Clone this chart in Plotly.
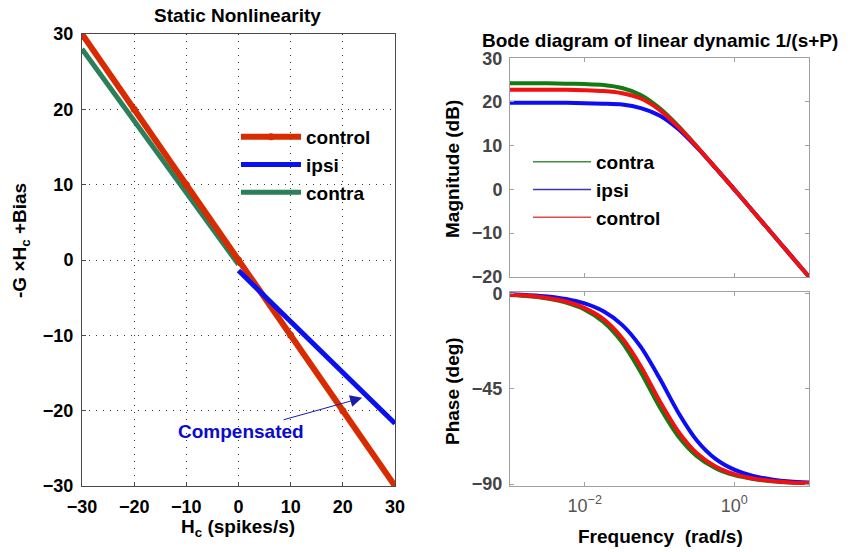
import plotly.graph_objects as go

# ---------------- data: static nonlinearity ----------------
H_CONTROL = [-30, -20, -10, 0, 10, 20, 30]
CONTROL_OUT = [30, 20, 10, 0, -10, -20, -30]
H_CONTRA = [-30, -20, -10, 0]
CONTRA_OUT = [28.0, 18.4, 8.9, -0.6]
H_IPSI = [0, 10, 20, 30]
IPSI_OUT = [-1.4, -8.1, -14.9, -21.7]
AXIS_TICKS_LEFT = [-30, -20, -10, 0, 10, 20, 30]

# ---------------- data: Bode diagram ----------------
FREQ = [0.001, 0.00178, 0.00316, 0.00562, 0.01, 0.0178, 0.0316, 0.0562, 0.1,
        0.178, 0.316, 0.562, 1.0, 1.78, 3.16, 5.62, 10.0]
CONTRA_MAG = [24.3, 24.3, 24.3, 24.2, 24.1, 23.9, 23.2, 21.6, 18.6, 14.5, 9.8, 4.9, 0.0, -5.0, -10.0, -15.0, -20.0]
IPSI_MAG = [19.8, 19.8, 19.8, 19.8, 19.7, 19.6, 19.4, 18.6, 16.9, 13.8, 9.6, 4.9, 0.0, -5.0, -10.0, -15.0, -20.0]
CONTROL_MAG = [22.8, 22.8, 22.8, 22.8, 22.7, 22.5, 22.0, 20.8, 18.2, 14.3, 9.8, 4.9, 0.0, -5.0, -10.0, -15.0, -20.0]
CONTRA_PH = [-0.8, -1.4, -2.5, -4.4, -7.7, -13.5, -23.1, -37.2, -53.5, -67.4, -76.8, -82.5, -85.8, -87.6, -88.7, -89.3, -89.6]
IPSI_PH = [-0.5, -0.9, -1.5, -2.7, -4.8, -8.5, -14.9, -25.3, -40.0, -56.2, -69.4, -78.1, -83.2, -86.2, -87.8, -88.8, -89.3]
CONTROL_PH = [-0.7, -1.2, -2.2, -3.9, -7.0, -12.2, -21.1, -34.4, -50.7, -65.2, -75.5, -81.7, -85.3, -87.4, -88.5, -89.2, -89.5]
MAG_TICKS = [-20, -10, 0, 10, 20, 30]
PH_TICKS = [-90, -45, 0]
PH_TICKTEXT = ["−90", "−45", "0"]
FREQ_TICKS = [0.01, 1]
FREQ_TICKTEXT = ["10<sup>−2</sup>", "10<sup>0</sup>"]

# annotation anchors (data coords of left panel)
COMP_TEXT_POS = (0.4, -22.8)
COMP_ARROW_HEAD = (23.7, -18.3)

FONT = "Liberation Sans, Arial, sans-serif"
W, H = 851, 552

L_RED = "#d92b00"
L_BLUE = "#0a10ee"
L_GREEN = "#2b7f5b"
R_GREEN = "#147a14"
R_BLUE = "#0c0cf5"
R_RED = "#f21010"

fig = go.Figure()

# ---- left panel ----
fig.add_trace(go.Scatter(x=H_CONTRA, y=CONTRA_OUT, mode="lines", name="contra",
                         line=dict(color=L_GREEN, width=5), legendrank=3,
                         xaxis="x", yaxis="y", legend="legend"))
fig.add_trace(go.Scatter(x=H_CONTROL, y=CONTROL_OUT, mode="lines+markers", name="control",
                         line=dict(color=L_RED, width=6), marker=dict(color=L_RED, size=7),
                         legendrank=1, xaxis="x", yaxis="y", legend="legend"))
fig.add_trace(go.Scatter(x=H_IPSI, y=IPSI_OUT, mode="lines", name="ipsi",
                         line=dict(color=L_BLUE, width=5), legendrank=2,
                         xaxis="x", yaxis="y", legend="legend"))

# ---- right panels ----
for ys, col, nm, ax in [(CONTRA_MAG, R_GREEN, "contra", "2"), (IPSI_MAG, R_BLUE, "ipsi", "2"),
                        (CONTROL_MAG, R_RED, "control", "2"),
                        (CONTRA_PH, R_GREEN, "contra", "3"), (IPSI_PH, R_BLUE, "ipsi", "3"),
                        (CONTROL_PH, R_RED, "control", "3")]:
    fig.add_trace(go.Scatter(x=FREQ, y=ys, mode="lines", name=nm, showlegend=False,
                             line=dict(color=col, width=4, shape="spline", smoothing=0.8),
                             xaxis="x" + ax, yaxis="y" + ax))

# thin legend entries for the Bode legend
for nm, col in [("contra", "#3f8f3f"), ("ipsi", "#3a3aa8"), ("control", "#e04a4a")]:
    fig.add_trace(go.Scatter(x=[None], y=[None], mode="lines", name=nm,
                             line=dict(color=col, width=1.5),
                             xaxis="x2", yaxis="y2", legend="legend2"))

def px_x(p):
    return p / W

def px_y(p):
    return 1 - p / H

left_common = dict(range=[-30, 30], tickvals=AXIS_TICKS_LEFT, showgrid=True,
                   gridcolor="#3a3a3a", griddash="1px,6px", gridwidth=1,
                   zeroline=False, showline=True, linecolor="#4a4a4a", linewidth=1,
                   mirror=True, ticks="inside", ticklen=4, tickcolor="#4a4a4a",
                   tickfont=dict(family=FONT, size=18, color="#000000", weight="bold"),
                   ticklabelstandoff=4, automargin=False)

right_common = dict(showgrid=False, zeroline=False, showline=True, linecolor="#a0a0a0",
                    linewidth=1, mirror="ticks", ticks="inside", ticklen=4, tickcolor="#a0a0a0",
                    tickfont=dict(family=FONT, size=18, color="#444444", weight="bold"),
                    ticklabelstandoff=3, automargin=False)

fig.update_layout(
    width=W, height=H,
    margin=dict(l=0, r=0, t=0, b=0, pad=0, autoexpand=False),
    paper_bgcolor="white", plot_bgcolor="white",
    font=dict(family=FONT, color="black"),
    xaxis=dict(domain=[px_x(82), px_x(395)], anchor="y", **left_common),
    yaxis=dict(domain=[px_y(486), px_y(34)], anchor="x", **left_common),
    xaxis2=dict(domain=[px_x(510), px_x(809)], anchor="y2", type="log", range=[-3, 1],
                tickvals=FREQ_TICKS, showticklabels=False, **right_common),
    yaxis2=dict(domain=[px_y(276.7), px_y(58.3)], anchor="x2", range=[-20, 30],
                tickvals=MAG_TICKS, **right_common),
    xaxis3=dict(domain=[px_x(510), px_x(809)], anchor="y3", type="log", range=[-3, 1],
                tickvals=FREQ_TICKS, ticktext=FREQ_TICKTEXT,
                **{k: v for k, v in right_common.items() if k != "tickfont"},
                tickfont=dict(family=FONT, size=18, color="#555555")),
    yaxis3=dict(domain=[px_y(486), px_y(292)], anchor="x3", range=[-90.9, 0.6],
                tickvals=PH_TICKS, ticktext=PH_TICKTEXT, **right_common),
    legend=dict(x=px_x(236), y=px_y(118), xanchor="left", yanchor="top",
                bgcolor="rgba(0,0,0,0)", itemwidth=60,
                font=dict(family=FONT, size=19, color="black", weight="bold")),
    legend2=dict(x=px_x(528), y=px_y(143), xanchor="left", yanchor="top",
                 bgcolor="rgba(0,0,0,0)", itemwidth=58,
                 font=dict(family=FONT, size=19, color="black", weight="bold")),
    showlegend=True,
)

ann_font = dict(family=FONT, size=19, color="black", weight="bold")
annotations = [
    dict(text="Static Nonlinearity", x=px_x(238), y=px_y(15), xref="paper", yref="paper",
         showarrow=False, xanchor="center", yanchor="middle", font=ann_font),
    dict(text="Bode diagram of linear dynamic 1/(s+P)", x=px_x(660), y=px_y(40.5),
         xref="paper", yref="paper", showarrow=False, xanchor="center", yanchor="middle",
         font=ann_font),
    dict(text="H<sub>c</sub> (spikes/s)", x=px_x(238), y=px_y(528), xref="paper", yref="paper",
         showarrow=False, xanchor="center", yanchor="middle", font=ann_font),
    dict(text="-G ×H<sub>c</sub> +Bias", x=px_x(21), y=px_y(241), xref="paper", yref="paper",
         showarrow=False, xanchor="center", yanchor="middle", textangle=-90, font=ann_font),
    dict(text="Magnitude (dB)", x=px_x(452), y=px_y(169), xref="paper", yref="paper",
         showarrow=False, xanchor="center", yanchor="middle", textangle=-90, font=ann_font),
    dict(text="Phase (deg)", x=px_x(452), y=px_y(391), xref="paper", yref="paper",
         showarrow=False, xanchor="center", yanchor="middle", textangle=-90, font=ann_font),
    dict(text="Frequency  (rad/s)", x=px_x(660), y=px_y(536), xref="paper", yref="paper",
         showarrow=False, xanchor="center", yanchor="middle", font=ann_font),
    dict(text="Compensated", x=COMP_ARROW_HEAD[0], y=COMP_ARROW_HEAD[1], xref="x", yref="y",
         ax=COMP_TEXT_POS[0], ay=COMP_TEXT_POS[1], axref="x", ayref="y",
         showarrow=True, arrowhead=2, arrowsize=2.4, arrowwidth=1, arrowcolor="#1a1ab0",
         font=dict(family=FONT, size=19, color="#0a0ad0", weight="bold")),
]
fig.update_layout(annotations=annotations)

# remove the default page margin so the figure fills the 851x552 window exactly
fig.write_html("out.html", config={"displayModeBar": False},
               post_script="document.body.style.margin='0px';")
